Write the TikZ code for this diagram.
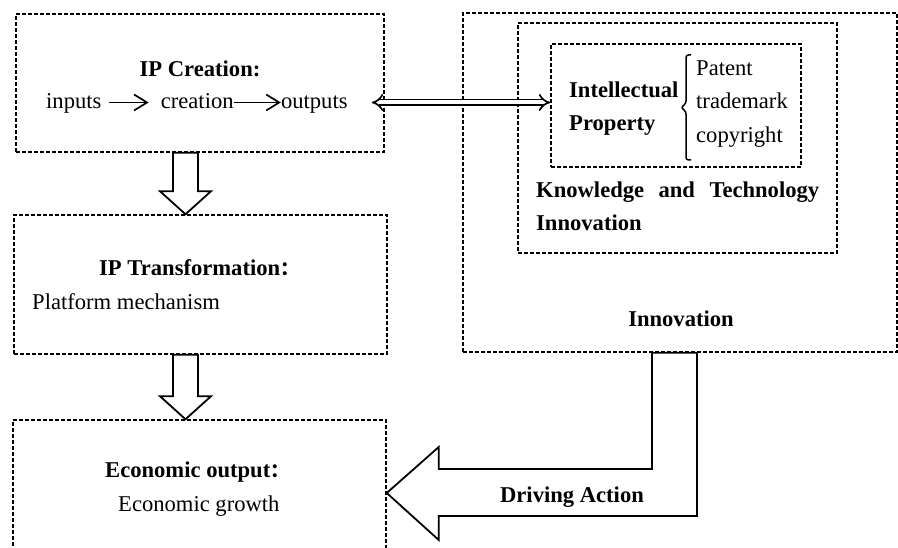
\documentclass[tikz,border=0pt]{standalone}
\usepackage{fontspec}
\setmainfont{Liberation Serif}
\newfontfamily\cjk{Noto Sans CJK SC}
\usetikzlibrary{arrows.meta,calc,positioning}

\newcommand{\wcolon}{{\cjk\fontsize{19}{19}\selectfont ：}}

\tikzset{
  dbox/.style={rectangle,draw,line width=1.5pt,dash pattern=on 4pt off 2pt,inner sep=0pt},
  txt/.style={inner sep=0pt,anchor=base west,font=\fontsize{22.6}{33.5}\selectfont},
  btxt/.style={txt,font=\fontsize{22.6}{33.5}\selectfont\bfseries},
  row/.style={txt,text height=17pt,text depth=4pt},
  blockarrow/.style={draw,line width=1.8pt,line join=miter},
  flow/.style={line width=1.7pt,-{Straight Barb[length=13pt,width=16pt]}},
  dbl/.style={double,double distance=4pt,line width=1.7pt,{Implies[scale=1.6]}-{Implies[scale=1.6]}},
}

\begin{document}
\begin{tikzpicture}[x=1pt,y=-1pt]
  \useasboundingbox (0,0) rectangle (898,548);
  \clip (0,0) rectangle (898,548);

  % left column
  \node[dbox,minimum width=368,minimum height=138] (ipc) at (200,83) {};
  \node[dbox,minimum width=373,minimum height=139] (ipt) at (200.5,284.5) {};
  \node[dbox,minimum width=373,minimum height=146] (eco) at (199.5,493) {};

  % right column, nested
  \node[dbox,minimum width=434,minimum height=339] (inno) at (680,182.5) {};
  \node[dbox,minimum width=319,minimum height=230] (kti) at (677.5,138) {};
  \node[dbox,minimum width=250,minimum height=123] (iprop) at (676,105.5) {};

  % IP creation
  \node[btxt,anchor=base] (ipctitle) at (200,77) {IP Creation:};
  \node[row] (inputs) at (46,109) {inputs};
  \node[row,base right=59pt of inputs] (creation) {creation};
  \node[row,base right=47pt of creation] (outputs) {outputs};
  \draw[flow] ($(inputs.east)+(7,0)$) -- ($(creation.west)+(-12,0)$);
  \draw[flow] (creation.east) -- (outputs.west);

  % IP transformation
  \node[btxt] (ipttitle) at (99,276) {IP Transformation\wcolon};
  \node[txt] (platform) at (32,310) {Platform mechanism};

  % economic output
  \node[btxt] (ecotitle) at (105,477) {Economic output\wcolon};
  \node[txt] (growth) at (118,511) {Economic growth};

  % intellectual property
  \node[btxt] (intel) at (569,98) {Intellectual};
  \node[btxt] (prop) at (569,131) {Property};
  \node[txt] (patent) at (696,76) {Patent};
  \node[txt] (trademark) at (696,109) {trademark};
  \node[txt] (copyright) at (696,143) {copyright};
  \coordinate (bt) at ($(patent.base west)+(-5,-21)$);
  \coordinate (bb) at ($(copyright.base west)+(-5,17)$);
  \coordinate (bm) at ($(bt)!0.5!(bb)$);
  \draw[line width=1.5pt,rounded corners=2.5pt] (bt) -- ++(-5,0) -- ($(bm)+(-5,-4)$)
    -- ($(bm)+(-10,0)$) -- ($(bm)+(-5,4)$) -- ($(bb)+(-5,0)$) -- (bb);

  \node[btxt] (know) at (536,198) {\makebox[283pt][s]{Knowledge and Technology}};
  \node[btxt] (knowinno) at (536,231) {Innovation};
  \node[btxt,anchor=base] (innotitle) at (681,327) {Innovation};

  % creation <-> intellectual property
  \draw[dbl] ($(outputs.east)+(24,0)$) -- (outputs.east -| iprop.west);

  % block arrows down the left column
  \coordinate (m) at (185.5,0);
  \coordinate (a1) at (ipc.south -| m);
  \coordinate (a1t) at (ipt.north -| m);
  \coordinate (a2) at (ipt.south -| m);
  \coordinate (a2t) at (eco.north -| m);
  \draw[blockarrow] ($(a1)+(-12.5,0)$) -- ($(a1t)+(-12.5,-23)$) -- ($(a1t)+(-25.5,-23)$)
    -- (a1t) -- ($(a1t)+(25.5,-23)$) -- ($(a1t)+(12.5,-23)$) -- ($(a1)+(12.5,0)$) -- cycle;
  \draw[blockarrow] ($(a2)+(-12.5,0)$) -- ($(a2t)+(-12.5,-23)$) -- ($(a2t)+(-25.5,-23)$)
    -- (a2t) -- ($(a2t)+(25.5,-23)$) -- ($(a2t)+(12.5,-23)$) -- ($(a2)+(12.5,0)$) -- cycle;

  % driving action
  \coordinate (drv) at ($(inno.south)+(-5.5,0)$);
  \draw[blockarrow] ($(drv)+(-22.5,0)$) -- ($(drv)+(22.5,0)$) |- ($(eco.east)+(52,23)$)
    -- ($(eco.east)+(52,47)$) -- (eco.east) -- ($(eco.east)+(52,-46)$)
    -- ($(eco.east)+(52,-24)$) -| ($(drv)+(-22.5,0)$) -- cycle;
  \node[btxt,anchor=base] (driving) at (572,502) {Driving Action};
\end{tikzpicture}
\end{document}
